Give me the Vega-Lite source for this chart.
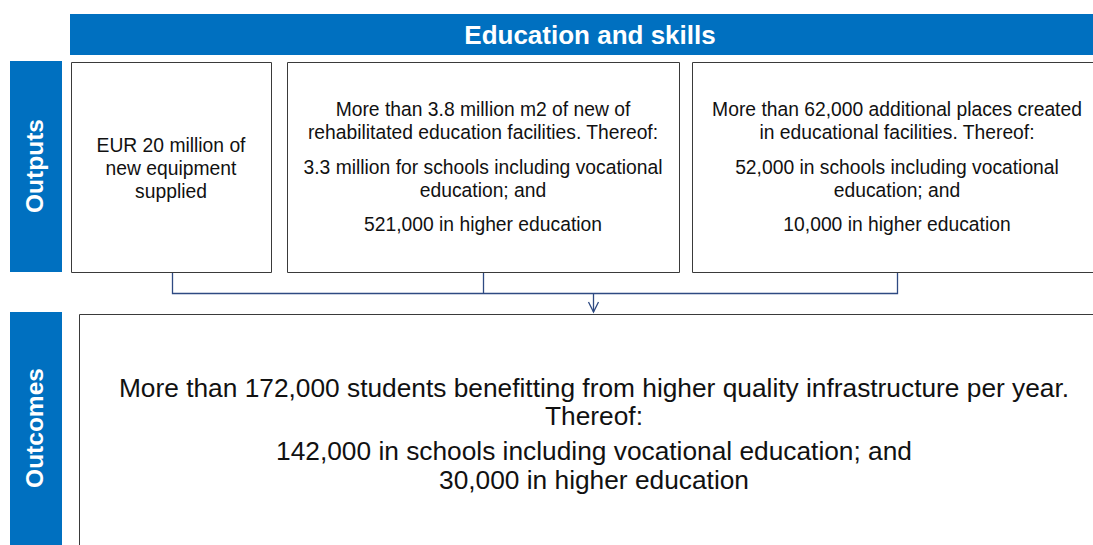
{
  "$schema": "https://vega.github.io/schema/vega-lite/v6.json",
  "width": 1093,
  "height": 545,
  "autosize": {"type": "fit", "contains": "padding"},
  "padding": 0,
  "background": "white",
  "config": {"view": {"stroke": null}, "font": "Liberation Sans"},
  "datasets": {
    "blue": [
      {"name": "banner", "x": 70, "x2": 1100, "y": 14, "y2": 55},
      {"name": "outputs", "x": 10, "x2": 62, "y": 61, "y2": 272},
      {"name": "outcomes", "x": 10, "x2": 62, "y": 312, "y2": 560}
    ],
    "boxes": [
      {"name": "box1", "x": 71.5, "x2": 271.5, "y": 62.5, "y2": 272.5},
      {"name": "box2", "x": 287.5, "x2": 679.5, "y": 62.5, "y2": 272.5},
      {"name": "box3", "x": 692.5, "x2": 1102, "y": 62.5, "y2": 272.5},
      {"name": "outcome", "x": 79.5, "x2": 1102, "y": 314.5, "y2": 560}
    ],
    "connectors": [
      {"seg": "a", "o": 1, "x": 172.5, "y": 273},
      {"seg": "a", "o": 2, "x": 172.5, "y": 293.5},
      {"seg": "a", "o": 3, "x": 897.5, "y": 293.5},
      {"seg": "a", "o": 4, "x": 897.5, "y": 273},
      {"seg": "b", "o": 1, "x": 483.5, "y": 273},
      {"seg": "b", "o": 2, "x": 483.5, "y": 293.5},
      {"seg": "c", "o": 1, "x": 593.5, "y": 293.5},
      {"seg": "c", "o": 2, "x": 593.5, "y": 312},
      {"seg": "d", "o": 1, "x": 588.5, "y": 302},
      {"seg": "d", "o": 2, "x": 593.5, "y": 312},
      {"seg": "d", "o": 3, "x": 598.5, "y": 302}
    ],
    "boxText": [
      {"x": 171, "y": 146, "t": "EUR 20 million of"},
      {"x": 171, "y": 169, "t": "new equipment"},
      {"x": 171, "y": 192, "t": "supplied"},
      {"x": 483, "y": 110, "t": "More than 3.8 million m2 of new of"},
      {"x": 483, "y": 133, "t": "rehabilitated education facilities. Thereof:"},
      {"x": 483, "y": 168, "t": "3.3 million for schools including vocational"},
      {"x": 483, "y": 191, "t": "education; and"},
      {"x": 483, "y": 225, "t": "521,000 in higher education"},
      {"x": 897, "y": 110, "t": "More than 62,000 additional places created"},
      {"x": 897, "y": 133, "t": "in educational facilities. Thereof:"},
      {"x": 897, "y": 168, "t": "52,000 in schools including vocational"},
      {"x": 897, "y": 191, "t": "education; and"},
      {"x": 897, "y": 225, "t": "10,000 in higher education"}
    ],
    "outText": [
      {"x": 594, "y": 389, "t": "More than 172,000 students benefitting from higher quality infrastructure per year."},
      {"x": 594, "y": 417, "t": "Thereof:"},
      {"x": 594, "y": 452, "t": "142,000 in schools including vocational education; and"},
      {"x": 594, "y": 481, "t": "30,000 in higher education"}
    ],
    "title": [{"x": 590, "y": 36, "t": "Education and skills"}],
    "side": [
      {"x": 36, "y": 166, "t": "Outputs"},
      {"x": 36, "y": 428, "t": "Outcomes"}
    ]
  },
  "encoding": {
    "x": {"field": "x", "type": "quantitative", "scale": {"domain": [0, 1093], "nice": false, "zero": false}, "axis": null},
    "y": {"field": "y", "type": "quantitative", "scale": {"domain": [0, 545], "nice": false, "zero": false, "reverse": true}, "axis": null}
  },
  "layer": [
    {
      "data": {"name": "blue"},
      "mark": {"type": "rect", "fill": "#0070C0", "clip": true},
      "encoding": {"x2": {"field": "x2"}, "y2": {"field": "y2"}}
    },
    {
      "data": {"name": "boxes"},
      "mark": {"type": "rect", "fill": "white", "stroke": "#3A3A3A", "strokeWidth": 1, "clip": true},
      "encoding": {"x2": {"field": "x2"}, "y2": {"field": "y2"}}
    },
    {
      "data": {"name": "connectors"},
      "mark": {"type": "line", "stroke": "#2E4A82", "strokeWidth": 1.3, "clip": true},
      "encoding": {"detail": {"field": "seg"}, "order": {"field": "o", "type": "quantitative"}}
    },
    {
      "data": {"name": "boxText"},
      "mark": {"type": "text", "font": "Liberation Sans", "fontSize": 19.3, "color": "#111111", "align": "center", "baseline": "middle"},
      "encoding": {"text": {"field": "t"}}
    },
    {
      "data": {"name": "outText"},
      "mark": {"type": "text", "font": "Liberation Sans", "fontSize": 26.3, "color": "#111111", "align": "center", "baseline": "middle"},
      "encoding": {"text": {"field": "t"}}
    },
    {
      "data": {"name": "title"},
      "mark": {"type": "text", "font": "Liberation Sans", "fontSize": 26, "fontWeight": "bold", "color": "white", "align": "center", "baseline": "middle"},
      "encoding": {"text": {"field": "t"}}
    },
    {
      "data": {"name": "side"},
      "mark": {"type": "text", "font": "Liberation Sans", "fontSize": 24.5, "fontWeight": "bold", "color": "white", "align": "center", "baseline": "middle", "angle": 270},
      "encoding": {"text": {"field": "t"}}
    }
  ]
}
